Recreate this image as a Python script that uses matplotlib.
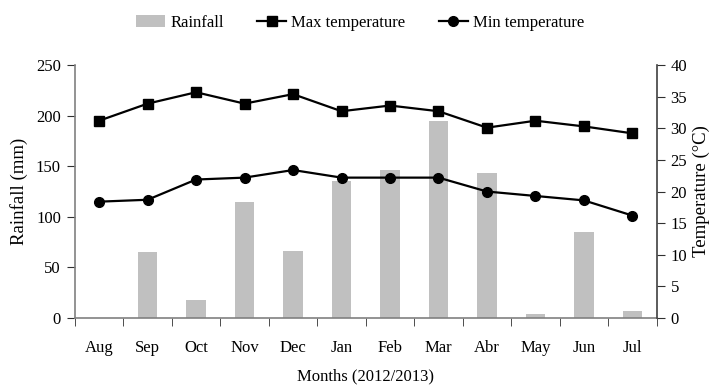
import matplotlib
matplotlib.use("Agg")
import matplotlib.pyplot as plt
import numpy as np

months = ["Aug", "Sep", "Oct", "Nov", "Dec", "Jan", "Feb", "Mar", "Abr", "May", "Jun", "Jul"]
rainfall = [0, 65, 18, 115, 66, 135, 146, 195, 143, 4, 85, 7]
max_temp = [31.2, 33.9, 35.7, 33.9, 35.4, 32.7, 33.6, 32.7, 30.1, 31.2, 30.3, 29.2]
min_temp = [18.4, 18.7, 21.9, 22.2, 23.4, 22.2, 22.2, 22.2, 20.0, 19.3, 18.6, 16.2]

plt.rcParams['font.family'] = ['Liberation Serif', 'DejaVu Serif']
fs = 12
lfs = 13.5
tickc = '#303030'

fig = plt.figure(figsize=(7.13, 3.85), dpi=100)
ax = fig.add_axes([0.105, 0.174, 0.816, 0.657])
x = np.arange(len(months))
bars = ax.bar(x, rainfall, width=0.4, color='#c0c0c0', label='Rainfall', zorder=1)
ax.set_ylim(0, 250)
ax.set_xlim(-0.5, len(months) - 0.5)
ax.set_yticks(np.arange(0, 251, 50))
ax.set_xticks(x)
ax.set_xticklabels(months, fontsize=fs)
ax.set_xticks(np.arange(-0.5, len(months), 1), minor=True)
ax.tick_params(axis='x', which='major', length=0, pad=16)
ax.tick_params(axis='x', which='minor', length=6, direction='out', color=tickc)
ax.tick_params(axis='y', labelsize=fs, length=6, direction='out', color=tickc, pad=4)
ax.set_ylabel('Rainfall (mm)', fontsize=lfs, labelpad=6)
ax.set_xlabel('Months (2012/2013)', fontsize=fs, labelpad=8.5)
for s in ['top', 'right']:
    ax.spines[s].set_visible(False)
for s in ['left', 'bottom']:
    ax.spines[s].set_color('#808080')
    ax.spines[s].set_linewidth(1.2)

ax2 = ax.twinx()
l1, = ax2.plot(x, max_temp, color='black', marker='s', markersize=7, linewidth=1.6, label='Max temperature')
l2, = ax2.plot(x, min_temp, color='black', marker='o', markersize=7, linewidth=1.6, label='Min temperature')
ax2.set_ylim(0, 40)
ax2.set_yticks(np.arange(0, 41, 5))
ax2.tick_params(axis='y', labelsize=fs, length=6, direction='out', color=tickc, pad=4)
ax2.set_ylabel('Temperature (°C)', fontsize=lfs, labelpad=4)
for s in ['top', 'left', 'bottom']:
    ax2.spines[s].set_visible(False)
ax2.spines['right'].set_color('#404040')
ax2.spines['right'].set_linewidth(1.2)

fig.legend(handles=[bars, l1, l2], loc='center', bbox_to_anchor=(0.505, 0.94), ncol=3,
           frameon=False, fontsize=fs, handlelength=1.75, columnspacing=2.0, handletextpad=0.3)

fig.savefig('out.png', dpi=100)
